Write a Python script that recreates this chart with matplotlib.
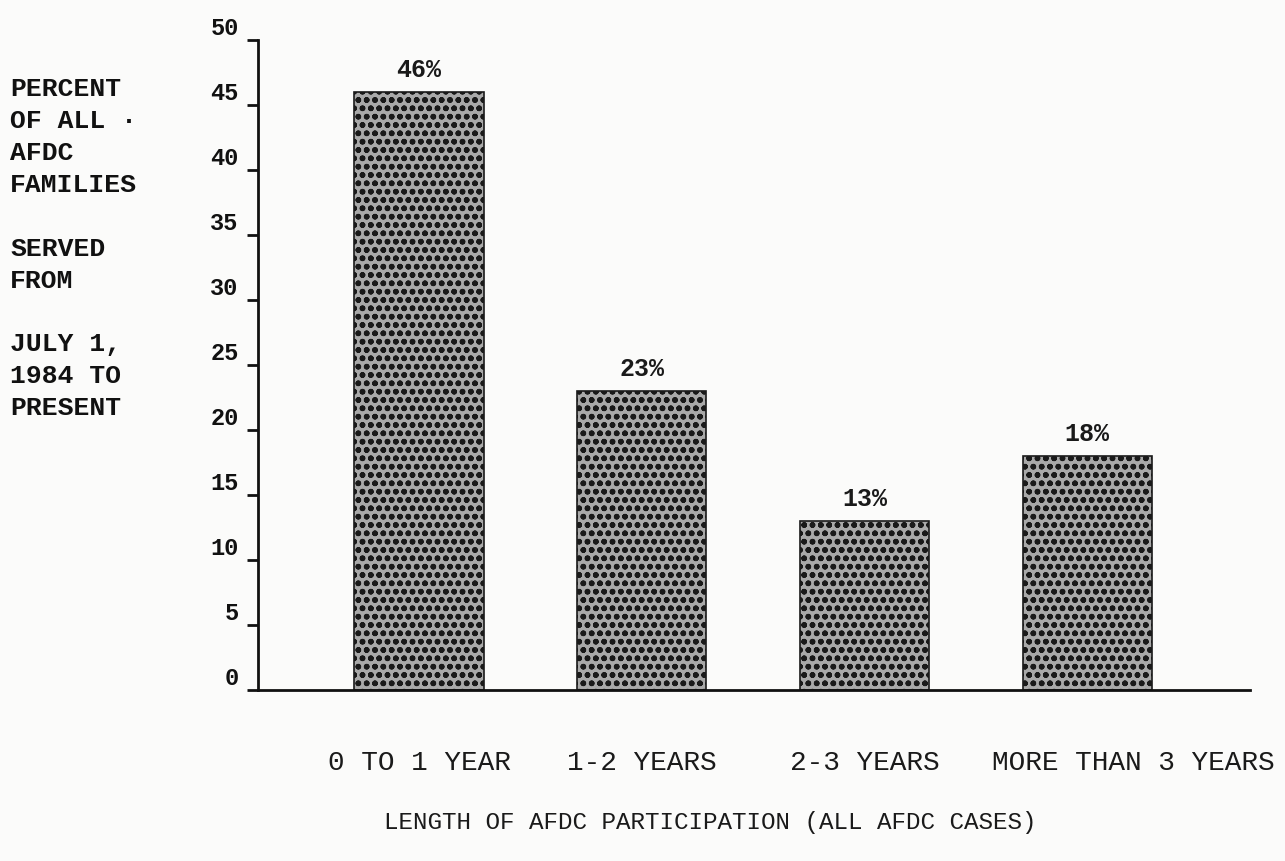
import numpy as np
import matplotlib
matplotlib.use("Agg")
import matplotlib.pyplot as plt
from matplotlib.transforms import ScaledTranslation

# participation length groups and share of families (percent)
categories = ["0 TO 1 YEAR", "1-2 YEARS", "2-3 YEARS", "MORE THAN 3 YEARS"]
percents = [46, 23, 13, 18]
yticks = [0, 5, 10, 15, 20, 25, 30, 35, 40, 45, 50]

side_label = "PERCENT\nOF ALL \u00b7\nAFDC\nFAMILIES\n\nSERVED\nFROM\n\nJULY 1,\n1984 TO\nPRESENT"
x_title = "LENGTH OF AFDC PARTICIPATION (ALL AFDC CASES)"

plt.rcParams['font.family'] = ['Liberation Mono', 'DejaVu Sans Mono']
plt.rcParams['hatch.linewidth'] = 1.7
plt.rcParams['hatch.color'] = '#333333'

fig = plt.figure(figsize=(12.85, 8.61), dpi=100, facecolor='#fbfbfa')
ax = fig.add_axes([0.2008, 0.1986, 0.772, 0.7549])
ax.set_facecolor('none')

x = np.arange(len(categories))
bars = ax.bar(x, percents, width=0.58, color='#a9a9a9', edgecolor='#1a1a1a',
              linewidth=1.2, hatch='oo')

# value labels over the bars
for b, v in zip(bars, percents):
    ax.annotate(f"{v}%", (b.get_x() + b.get_width() / 2, v),
                xytext=(0, 7), textcoords='offset points',
                ha='center', va='bottom', fontsize=18, fontweight='bold',
                color='#1a1a1a')

ax.set_xlim(-0.723, 3.731)
ax.set_ylim(0, 50)

for s in ['top', 'right']:
    ax.spines[s].set_visible(False)
ax.spines['left'].set_linewidth(2)
ax.spines['bottom'].set_linewidth(2)
ax.spines['left'].set_color('#111111')
ax.spines['bottom'].set_color('#111111')

ax.set_yticks(yticks)
ax.set_yticklabels([str(t) for t in yticks])
ax.tick_params(axis='y', direction='out', length=8, width=2, pad=6,
               labelsize=17, colors='#111111')
for lbl in ax.get_yticklabels():
    lbl.set_fontweight('bold')
    lbl.set_transform(lbl.get_transform() + ScaledTranslation(0, 0.14, fig.dpi_scale_trans))

ax.set_xticks(x)
ax.set_xticklabels(categories)
ax.tick_params(axis='x', length=0, pad=43, labelsize=20, colors='#1a1a1a')
xl = ax.get_xticklabels()
xl[-1].set_transform(xl[-1].get_transform() + ScaledTranslation(0.46, 0, fig.dpi_scale_trans))

fig.text(0.008, 0.911, side_label, ha='left', va='top', fontsize=19,
         fontweight='bold', linespacing=1.42, color='#111111')
fig.text(0.553, 0.045, x_title, ha='center', va='center', fontsize=17.5,
         color='#1a1a1a')

fig.savefig("out.png", dpi=100, facecolor=fig.get_facecolor())
